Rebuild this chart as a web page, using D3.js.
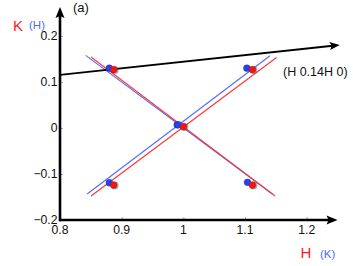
<!DOCTYPE html>
<html><head><meta charset="utf-8">
<script src="https://cdn.jsdelivr.net/npm/d3@7"></script>
<style>html,body{margin:0;padding:0;background:#fff}svg{display:block}text{font-family:"Liberation Sans",Arial,Helvetica,sans-serif}</style>
</head><body>
<script>
// ---- data ----
const xTicks = [0.8, 0.9, 1.0, 1.1, 1.2];
const xTickLabels = ["0.8", "0.9", "1", "1.1", "1.2"];
const yTicks = [-0.2, -0.1, 0, 0.1, 0.2];
const yTickLabels = ["\u22120.2", "\u22120.1", "0", "0.1", "0.2"];
const blueH = [0.880, 0.880, 0.990, 0.992, 1.103, 1.104];
const blueK = [0.130, -0.119, 0.007, 0.007, 0.130, -0.118];
const redH  = [0.887, 0.887, 1.000, 1.112, 1.112];
const redK  = [0.127, -0.124, 0.003, 0.127, -0.124];
const blueLines = [[[0.844, -0.1435], [1.1405, 0.157]], [[0.8417, 0.158], [1.1449, -0.1441]]];
const redLines  = [[[0.8503, -0.1478], [1.1511, 0.1533]], [[0.8503, 0.1543], [1.1487, -0.1478]]];
const scanLine = [[0.8, 0.1155], [1.2535, 0.1804]];
const scanLabel = "(H 0.14H 0)";
const axisXEnd = 1.25, axisYEnd = 0.263;

const W = 353, H = 266;
const svg = d3.select("body").append("svg").attr("width", W).attr("height", H);
const x = d3.scaleLinear().domain([0.8, 1.2]).range([60, 306.7]);
const y = d3.scaleLinear().domain([-0.2, 0.2]).range([220, 36]);

// ticks (small, inward)
const xAxis = d3.axisTop(x).tickValues(xTicks).tickSize(3).tickFormat("");
svg.append("g").attr("transform", `translate(0,${y(-0.2)})`).call(xAxis)
  .call(g => { g.select(".domain").remove(); g.selectAll("line").attr("stroke", "#888").attr("stroke-width", 0.7); });
const yAxis = d3.axisRight(y).tickValues(yTicks).tickSize(3).tickFormat("");
svg.append("g").attr("transform", `translate(${x(0.8)},0)`).call(yAxis)
  .call(g => { g.select(".domain").remove(); g.selectAll("line").attr("stroke", "#888").attr("stroke-width", 0.7); });

// tick labels
svg.append("g").selectAll("text").data(xTicks).join("text")
  .attr("x", d => x(d)).attr("y", 234).attr("text-anchor", "middle")
  .attr("font-size", 12.2).attr("fill", "#111").text((d, i) => xTickLabels[i]);
svg.append("g").selectAll("text").data(yTicks).join("text")
  .attr("x", 57.5).attr("y", d => y(d) + 4.3).attr("text-anchor", "end")
  .attr("font-size", 12.2).attr("fill", "#111").text((d, i) => yTickLabels[i]);

// axes with arrows
const x0 = x(0.8), y0 = y(-0.2);
svg.append("line").attr("x1", x0).attr("y1", y0).attr("x2", x(axisXEnd) - 8).attr("y2", y0)
  .attr("stroke", "#000").attr("stroke-width", 2.6);
svg.append("line").attr("x1", x0).attr("y1", y0 + 1.3).attr("x2", x0).attr("y2", y(axisYEnd) + 8)
  .attr("stroke", "#000").attr("stroke-width", 2.6);
const xt = x(axisXEnd), yt = y(axisYEnd);
svg.append("path").attr("d", `M${xt},${y0} L${xt - 11},${y0 - 4.5} L${xt - 9},${y0} L${xt - 11},${y0 + 4.5} Z`).attr("fill", "#000");
svg.append("path").attr("d", `M${x0},${yt} L${x0 - 4.5},${yt + 11} L${x0},${yt + 9} L${x0 + 4.5},${yt + 11} Z`).attr("fill", "#000");

// fit lines
const line = d3.line().x(d => x(d[0])).y(d => y(d[1]));
blueLines.forEach(l => svg.append("path").attr("d", line(l)).attr("stroke", "#4f6bff").attr("stroke-width", 1.1).attr("fill", "none"));
redLines.forEach(l => svg.append("path").attr("d", line(l)).attr("stroke", "#ff3333").attr("stroke-width", 1.1).attr("fill", "none"));

// scan line with arrow
const sx1 = x(scanLine[0][0]), sy1 = y(scanLine[0][1]), sx2 = x(scanLine[1][0]), sy2 = y(scanLine[1][1]);
const ang = Math.atan2(sy2 - sy1, sx2 - sx1);
const ux = Math.cos(ang), uy = Math.sin(ang);
svg.append("line").attr("x1", sx1).attr("y1", sy1).attr("x2", sx2 - ux * 7).attr("y2", sy2 - uy * 7)
  .attr("stroke", "#000").attr("stroke-width", 1.8);
const al = 10, aw = 4;
svg.append("path").attr("d",
  `M${sx2},${sy2} L${sx2 - ux * al - uy * aw},${sy2 - uy * al + ux * aw} L${sx2 - ux * (al - 2)},${sy2 - uy * (al - 2)} L${sx2 - ux * al + uy * aw},${sy2 - uy * al - ux * aw} Z`)
  .attr("fill", "#000");

// dots
const blue = blueH.map((h, i) => [h, blueK[i]]);
const red = redH.map((h, i) => [h, redK[i]]);
svg.append("g").selectAll("circle").data(red).join("circle")
  .attr("cx", d => x(d[0]) + 1).attr("cy", d => y(d[1]) + 0.5).attr("r", 4).attr("fill", "rgba(90,90,90,0.5)");
svg.append("g").selectAll("circle").data(blue).join("circle")
  .attr("cx", d => x(d[0])).attr("cy", d => y(d[1])).attr("r", 3.4).attr("fill", "#2244ee")
  .attr("stroke", "rgba(40,40,120,0.5)").attr("stroke-width", 0.8);
svg.append("g").selectAll("circle").data(red).join("circle")
  .attr("cx", d => x(d[0])).attr("cy", d => y(d[1])).attr("r", 3.4).attr("fill", "#ff1010")
  .attr("stroke", "rgba(120,30,30,0.5)").attr("stroke-width", 0.8);

// labels
svg.append("text").attr("x", 73).attr("y", 11.5).attr("font-size", 13).attr("fill", "#111").text("(a)");
svg.append("text").attr("x", 13).attr("y", 30.5).attr("font-size", 15).attr("fill", "#ff1a1a").text("K");
svg.append("text").attr("x", 29).attr("y", 29).attr("font-size", 11.5).attr("fill", "#4f6bff").text("(H)");
svg.append("text").attr("x", 300.5).attr("y", 258.3).attr("font-size", 15).attr("fill", "#ff1a1a").text("H");
svg.append("text").attr("x", 320).attr("y", 257.5).attr("font-size", 11.5).attr("fill", "#4f6bff").text("(K)");
svg.append("text").attr("x", 283).attr("y", 75.5).attr("font-size", 12.5).attr("fill", "#111").text(scanLabel);
</script>
</body></html>
